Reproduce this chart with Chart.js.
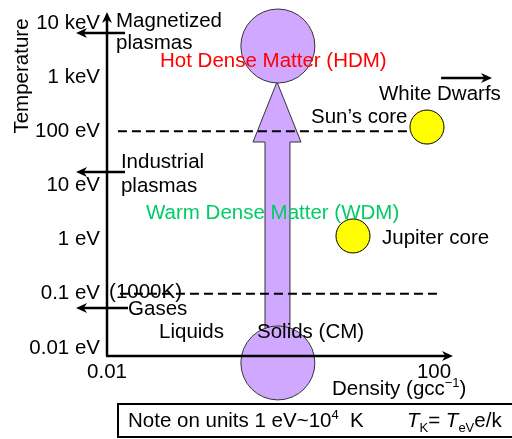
<!DOCTYPE html>
<html>
<head>
<meta charset="utf-8">
<script src="https://cdn.jsdelivr.net/npm/chart.js@4/dist/chart.umd.min.js"></script>
<style>
  html, body { margin: 0; padding: 0; background: #fff; }
</style>
</head>
<body>
<canvas id="chart" width="512" height="439"></canvas>
<script>
// Axes : densite (g/cc) et temperature (eV), toutes deux en log
const densityTicks  = [0.01, 1, 100];
const densityLabels = ['0.01', '1', '100'];
const tempTicks  = [0.01, 0.1, 1, 10, 100, 1000, 10000];
const tempLabels = ['0.01 eV', '0.1 eV', '1 eV', '10 eV', '100 eV', '1 keV', '10 keV'];

// Frontieres en pointilles (100 eV et 0.1 eV ~ 1000 K)
const boundaryTemp = [100, 0.1];
const boundaryFrom = [0.0136, 0.0144];
const boundaryTo   = [50.9, 125];

// Objets astrophysiques
const bodyName    = ['Sun\u2019s core', 'Jupiter core'];
const bodyDensity = [82, 10.2];
const bodyTemp    = [120, 1.17];

// Regimes : HDM en haut, matiere condensee en bas
const regimeDensity = [1.23, 1.23];
const regimeTemp    = [3760, 0.0053];

// Fleche epaisse CM -> HDM (contour)
const growthDensity = [0.856, 0.856, 0.611, 1.2, 2.36, 1.73, 1.73];
const growthTemp    = [0.0114, 63.5, 63.5, 815, 63.5, 63.5, 0.0114];

// Fleches fines : densite depart, densite arrivee, temperature
const pointerFrom = [0.0166, 0.0166, 0.0181, 122];
const pointerTo   = [0.00418, 0.00418, 0.00418, 512];
const pointerTemp = [6540, 17.7, 0.0548, 966];

// Libelles places en coordonnees donnees (coin gauche, ligne de base)
const labelText = ['Magnetized', 'plasmas', 'Hot Dense Matter (HDM)', 'White Dwarfs', 'Sun\u2019s core',
                   'Industrial', 'plasmas', 'Warm Dense Matter (WDM)', 'Jupiter core', '(1000K)',
                   'Gases', 'Liquids', 'Solids (CM)'];
const labelDensity = [0.0129, 0.0129, 0.0445, 21.2, 3.13, 0.0148, 0.0148, 0.030, 23.1, 0.0106, 0.0181, 0.0433, 0.684];
const labelTemp    = [8440, 3310, 1540, 379, 143, 21.0, 7.59, 2.41, 0.832, 0.0838, 0.0407, 0.0153, 0.0153];

const FONT = '"Liberation Sans", Arial, sans-serif';
const PURPLE = '#d0a8ff';
const labelColors = { 'Hot Dense Matter (HDM)': '#ff0000', 'Warm Dense Matter (WDM)': '#00cc66' };

function arrowHead(ctx, x, y, dir) {
  // dir : angle en radians de la pointe
  const len = 11, half = 5;
  ctx.save();
  ctx.translate(x, y);
  ctx.rotate(dir);
  ctx.beginPath();
  ctx.moveTo(0, 0);
  ctx.lineTo(-len, -half);
  ctx.lineTo(-len * 0.7, 0);
  ctx.lineTo(-len, half);
  ctx.closePath();
  ctx.fill();
  ctx.restore();
}

// Disques dessines via les echelles (evite le padding auto des gros points)
function discs(ctx, x, y, dens, temps, r, fill, stroke) {
  dens.forEach((d, i) => {
    ctx.beginPath();
    ctx.arc(x.getPixelForValue(d), y.getPixelForValue(temps[i]), r, 0, Math.PI * 2);
    ctx.fillStyle = fill;
    ctx.fill();
    ctx.lineWidth = 1;
    ctx.strokeStyle = stroke;
    ctx.stroke();
  });
}

// Texte avec exposant / indice : segments [texte, taille, decalage, italique]
function richText(ctx, x, y, segs) {
  segs.forEach(([t, size, dy, ital]) => {
    ctx.font = `${ital ? 'italic ' : ''}${size}px ${FONT}`;
    ctx.fillText(t, x, y + dy);
    x += ctx.measureText(t).width;
  });
}

const diagram = {
  id: 'diagram',
  beforeDatasetsDraw(chart) {
    const { ctx, scales: { x, y } } = chart;
    ctx.save();
    ctx.beginPath();
    growthDensity.forEach((d, i) => {
      const px = x.getPixelForValue(d), py = y.getPixelForValue(growthTemp[i]);
      i ? ctx.lineTo(px, py) : ctx.moveTo(px, py);
    });
    ctx.closePath();
    ctx.fillStyle = PURPLE;
    ctx.fill();
    ctx.strokeStyle = '#333';
    ctx.lineWidth = 1;
    ctx.stroke();
    discs(ctx, x, y, regimeDensity, regimeTemp, 37, PURPLE, '#333');
    ctx.restore();
  },
  afterDatasetsDraw(chart) {
    const { ctx, chartArea: a, scales: { x, y } } = chart;
    ctx.save();
    discs(ctx, x, y, bodyDensity, bodyTemp, 17, '#ffff00', '#000');
    ctx.strokeStyle = '#000';
    ctx.fillStyle = '#000';

    // axes avec fleches
    ctx.lineWidth = 2.5;
    ctx.beginPath();
    ctx.moveTo(a.left, a.bottom);
    ctx.lineTo(a.left, a.top + 4);
    ctx.moveTo(a.left - 1, a.bottom);
    ctx.lineTo(a.right - 4, a.bottom);
    ctx.stroke();
    arrowHead(ctx, a.left, a.top, -Math.PI / 2);
    arrowHead(ctx, a.right, a.bottom, 0);

    // fleches fines
    pointerTemp.forEach((t, i) => {
      const py = y.getPixelForValue(t);
      const x0 = x.getPixelForValue(pointerFrom[i]), x1 = x.getPixelForValue(pointerTo[i]);
      const dir = x1 < x0 ? Math.PI : 0;
      ctx.beginPath();
      ctx.moveTo(x0, py);
      ctx.lineTo(x1 + (x1 < x0 ? 5 : -5), py);
      ctx.stroke();
      arrowHead(ctx, x1, py, dir);
    });

    // libelles
    ctx.textAlign = 'left';
    ctx.textBaseline = 'alphabetic';
    ctx.font = `20.5px ${FONT}`;
    labelText.forEach((t, i) => {
      ctx.fillStyle = labelColors[t] || '#000';
      ctx.fillText(t, x.getPixelForValue(labelDensity[i]), y.getPixelForValue(labelTemp[i]));
    });
    ctx.fillStyle = '#000';

    // titre de l'axe vertical
    ctx.save();
    ctx.translate(28, 76);
    ctx.rotate(-Math.PI / 2);
    ctx.textAlign = 'center';
    ctx.fillText('Temperature', 0, 0);
    ctx.restore();

    // titre de l'axe horizontal
    richText(ctx, 332, 395, [['Density (gcc', 20.5, 0], ['\u22121', 13, -8], [')', 20.5, 0]]);

    // encadre de note
    ctx.lineWidth = 2;
    ctx.strokeRect(118, 404, 420, 33);
    richText(ctx, 128, 427, [['Note on units 1 eV~10', 20.5, 0], ['4', 13, -8], ['  K', 20.5, 0]]);
    richText(ctx, 407, 427, [['T', 20.5, 0, true], ['K', 13, 5], ['= ', 20.5, 0], ['T', 20.5, 0, true], ['eV', 13, 5], ['e/k', 20.5, 0]]);
    ctx.restore();
  }
};

const tickFont = { family: FONT, size: 20.5 };

new Chart(document.getElementById('chart'), {
  type: 'scatter',
  data: {
    datasets: boundaryTemp.map((t, i) => ({
      label: 'Boundary ' + t,
      data: [{ x: boundaryFrom[i], y: t }, { x: boundaryTo[i], y: t }],
      showLine: true,
      borderColor: '#000',
      borderWidth: 2,
      borderDash: [9, 5],
      pointRadius: 0,
      clip: false,
    })),
  },
  options: {
    responsive: false,
    animation: false,
    devicePixelRatio: 1,
    layout: { padding: { top: 12, right: 59, left: 0, bottom: 0 } },
    plugins: { legend: { display: false }, tooltip: { enabled: false } },
    scales: {
      x: {
        type: 'logarithmic',
        bounds: 'data',
        min: 0.01,
        max: 170.6,
        grid: { display: false, drawTicks: false },
        border: { display: false },
        ticks: { padding: 4, color: '#000', font: tickFont, autoSkip: false, maxRotation: 0,
                 callback: (v, i) => densityLabels[i] },
        afterBuildTicks: s => { s.ticks = densityTicks.map(v => ({ value: v })); },
        afterFit: s => { s.height = 83; s.paddingLeft = 0; s.paddingRight = 0; },
      },
      y: {
        type: 'logarithmic',
        bounds: 'data',
        min: 0.00711,
        max: 15960,
        grid: { display: false, drawTicks: false },
        border: { display: false },
        ticks: { padding: 7, color: '#000', font: tickFont, autoSkip: false,
                 callback: (v, i) => tempLabels[i] },
        afterBuildTicks: s => { s.ticks = tempTicks.map(v => ({ value: v })); },
        afterFit: s => { s.width = 107; s.paddingTop = 0; s.paddingBottom = 0; },
      },
    },
  },
  plugins: [diagram],
});
</script>
</body>
</html>
